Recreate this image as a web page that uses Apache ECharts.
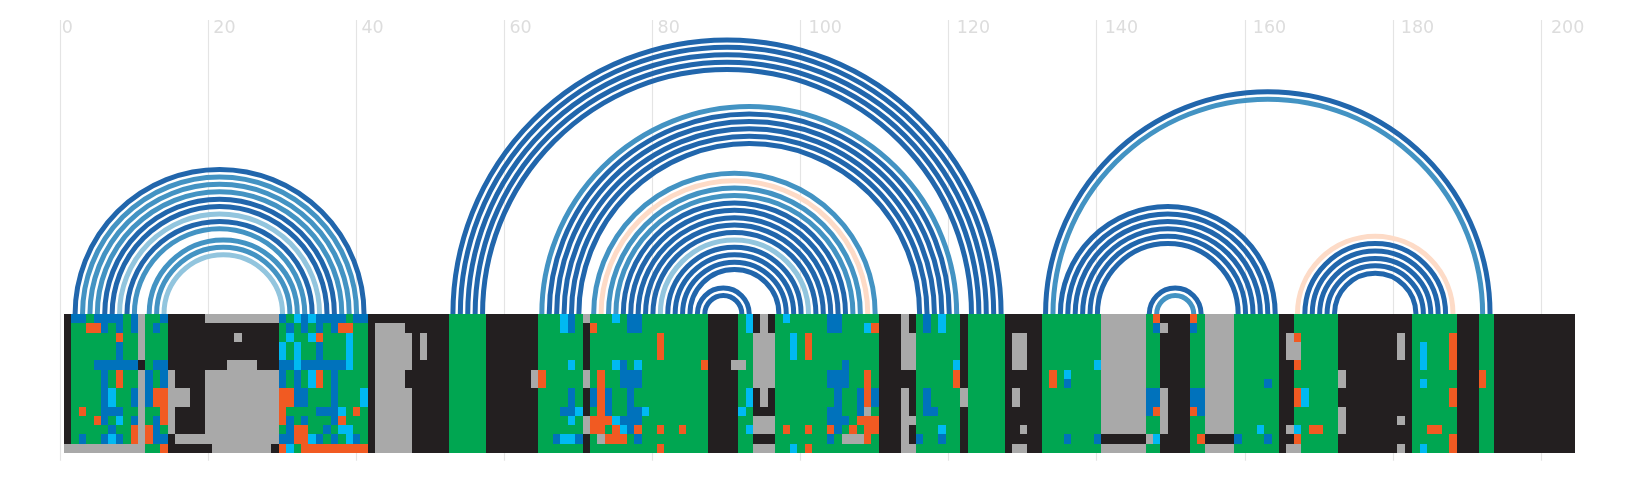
<!DOCTYPE html>
<html>
<head>
<meta charset="utf-8">
<style>html,body{margin:0;padding:0;background:#fff}#chart{width:1632px;height:478px}</style>
<script src="https://cdn.jsdelivr.net/npm/echarts@6/dist/echarts.min.js"></script>
</head>
<body>
<div id="chart"></div>
<script>
// Base pairs: [5' position, 3' position, probability class]
const arcGroupA = [[2,41,0],[3,40,1],[4,39,1],[5,38,1],[6,37,0],[7,36,0],[8,35,2],[9,34,0],[10,33,1],[12,32,1],[13,31,1],[14,30,2]];
const arcGroupB = [[53,127,0],[54,126,0],[55,125,0],[56,124,0],[57,123,0]];
const arcGroupC = [[65,121,1],[66,120,0],[67,119,0],[68,118,0],[69,117,0],[70,116,0]];
const arcGroupD = [[72,110,1],[73,109,3],[74,108,1],[75,107,1],[76,106,0],[77,105,0],[78,104,0],[79,103,0],[80,102,0],[81,101,2],[82,100,0],[83,99,0],[84,98,0],[85,97,0],[86,93,0],[87,92,0]];
const arcGroupE = [[133,193,0],[134,192,1]];
const arcGroupF = [[135,164,0],[136,163,0],[137,162,0],[138,161,0],[139,160,0],[140,159,0],[147,154,0],[148,153,1]];
const arcGroupG = [[167,188,3],[168,187,0],[169,186,0],[170,185,0],[171,184,0],[172,183,0]];
const arcColors = ['#2166AC','#4393C3','#92C5DE','#FDDBC7'];

const tickStep = 20;
const positionCount = 204;

// Alignment rows: each token = first column of a run + state letter
const alignmentRows = [
"1K 2B 4G 5B 9G 10B 11A 12G 14B 15K 20A 30B 31G 32C 33B 34C 35B 39G 40B 42K 53G 58K 65G 68C 69B 70G 71A 72G 75C 76G 77B 79G 88K 92G 93C 94K 95A 96K 97G 98C 99G 104B 106G 111K 114A 115K 116G 117B 118G 119C 120G 122K 123G 128K 133G 141A 147G 148O 149K 153O 154G 155A 159G 165K 167G 173K 183G 189K 192G 194K",
"1K 2G 4O 6B 7G 8B 9G 10B 11A 12G 13B 14G 15K 30G 31B 32G 33B 34G 35B 36G 37B 38O 40G 42K 43A 47K 53G 58K 65G 68C 69B 70G 71K 72O 73G 77B 79G 88K 92G 93C 94K 95A 96K 97G 104B 106G 109C 110O 111K 114A 115K 116G 117B 118G 119C 120G 122K 123G 128K 133G 141A 147G 148B 149A 150K 153B 154G 155A 159G 165K 167G 173K 183G 189K 192G 194K",
"1K 2G 8O 9G 11A 12G 15K 24A 25K 30G 31C 32G 34C 35O 36G 39C 40G 42K 43A 48K 49A 50K 53G 58K 65G 71K 72G 81O 82G 88K 92G 94A 97G 99C 100G 101O 102G 111K 114A 116G 122K 123G 128K 129A 131K 133G 141A 147G 149K 153G 155A 159G 165K 166A 167O 168G 173K 181A 182K 183G 188O 189K 192G 194K",
"1K 2G 8B 9G 11A 12G 15K 30C 31G 32C 33G 35B 36G 39C 40G 42K 43A 48K 49A 50K 53G 58K 65G 71K 72G 81O 82G 88K 92G 94A 97G 99C 100G 101O 102G 111K 114A 116G 122K 123G 128K 129A 131K 133G 141A 147G 149K 153G 155A 159G 165K 166A 168G 173K 181A 182K 183G 184C 185G 188O 189K 192G 194K",
"1K 2G 8B 9G 11A 12G 15K 30C 31G 32C 33G 35B 36G 39C 40G 42K 43A 48K 49A 50K 53G 58K 65G 71K 72G 81O 82G 88K 92G 94A 97G 99C 100G 101O 102G 111K 114A 116G 122K 123G 128K 129A 131K 133G 141A 147G 149K 153G 155A 159G 165K 166A 168G 173K 181A 182K 183G 184C 185G 188O 189K 192G 194K",
"1K 2G 5B 11K 12G 13B 15K 23A 27K 30B 32C 33B 39C 40G 42K 43A 48K 53G 58K 65G 69C 70G 71K 72G 75C 76B 77G 78C 79G 87O 88K 91A 93G 94A 97G 106B 107G 111K 114A 116G 121C 122K 123G 128K 129A 131K 133G 140C 141A 147G 149K 153G 155A 159G 165K 167O 168G 173K 183G 184C 185G 188O 189K 192G 194K",
"1K 2G 6B 7G 8O 9G 11A 12B 13G 14B 15A 16K 20A 30B 31G 32B 33G 34C 35O 36G 37B 38G 42K 43A 47K 53G 58K 64A 65O 66G 71A 72G 73O 74G 76B 79G 88K 92G 94A 97G 104B 107G 109O 110G 111K 116G 121O 122K 123G 128K 133G 134O 135G 136C 137G 141A 147G 149K 153G 155A 159G 165K 167G 173A 174K 183G 189K 192O 193G 194K",
"1K 2G 6B 7G 8O 9G 11A 12B 13G 14B 15A 16K 20A 30B 31G 32B 33G 34C 35O 36G 37B 38G 42K 43A 47K 53G 58K 64A 65O 66G 71A 72G 73O 74G 76B 79G 88K 92G 94A 97G 104B 107G 109O 110G 111K 116G 121O 122K 123G 128K 133G 134O 135G 136B 137G 141A 147G 149K 153G 155A 159G 163B 164G 165K 167G 173A 174K 183G 184C 185G 189K 192O 193G 194K",
"1K 2G 6B 7C 8G 10B 11A 12B 13O 15A 18K 20A 30O 32B 34G 37B 38G 41C 42K 43A 48K 53G 58K 65G 69B 70G 71K 72B 73O 74B 75G 77B 78G 88K 92G 93C 94K 95A 96K 97G 105B 106G 108B 109O 110B 111K 114A 115K 116G 117B 118G 122A 123G 128K 129A 130K 133G 141A 147B 149A 150K 153B 155A 159G 165K 167O 168C 169G 173K 183G 188O 189K 192G 194K",
"1K 2G 6B 7C 8G 10B 11A 12B 13O 15A 18K 20A 30O 32B 34G 37B 38G 41C 42K 43A 48K 53G 58K 65G 69B 70G 71K 72B 73O 74B 75G 77B 78G 88K 92G 93C 94K 95A 96K 97G 105B 106G 108B 109O 110B 111K 114A 115K 116G 117B 118G 122A 123G 128K 129A 130K 133G 141A 147B 149A 150K 153B 155A 159G 165K 167O 168C 169G 173K 183G 188O 189K 192G 194K",
"1K 2G 3O 4G 6B 9G 11A 12G 14O 15A 16K 20A 30O 31G 35B 38C 39G 40O 41G 42K 43A 48K 53G 58K 65G 68B 70C 71K 72G 73O 74B 75G 77B 79C 80G 88K 92C 93G 94K 97G 104B 106G 108B 109A 110G 111K 114A 115K 116G 117B 119G 122K 123G 128K 133G 141A 147B 148O 149A 150K 153O 154B 155A 159G 165K 167G 173A 174K 183G 189K 192G 194K",
"1K 2G 5O 6B 7G 8C 9G 10B 11A 12G 13B 14O 15A 16K 20A 30O 31B 32G 33B 34G 37B 38O 39G 42K 43A 48K 53G 58K 65G 69C 70G 71A 72O 75C 76B 79G 88K 92G 94A 97G 104B 107G 108O 111K 114A 116G 122K 123G 128K 133G 141A 147G 149A 150K 153G 155A 159G 165K 167G 173A 174K 181A 182K 183G 189K 192G 194K",
"1K 2G 7B 8G 10O 11A 12O 13B 14G 15A 16K 20A 30G 31B 32O 34G 36B 37G 38C 40G 42K 43A 48K 53G 58K 65G 71A 72O 74G 75O 76C 77B 78O 79G 81O 82G 84O 85G 88K 92G 93C 94A 97G 98O 99G 101O 102G 104O 105B 106G 107O 108G 109O 111K 114A 115K 116G 119C 120G 122K 123G 128K 130A 131K 133G 141A 147G 149A 150K 153G 155A 159G 162C 163G 165K 166A 167C 168G 169O 171G 173A 174K 183G 185O 187G 189K 192G 194K",
"1K 2G 3B 4G 6B 7C 8B 9G 10O 11A 12O 13B 15K 16A 30B 32O 34C 35B 36G 37B 38G 39C 40B 41G 42K 43A 48K 53G 58K 65G 67B 68C 70B 71K 72G 73A 74O 77G 78B 79G 88K 92G 94K 97G 104B 105G 106A 109O 110G 111K 114A 115K 116B 117G 119B 120G 122K 123G 128K 133G 136B 137G 140B 141K 147A 148C 149K 153G 154O 155K 159B 160G 163B 164G 165K 167O 168G 173K 183G 188O 189K 192G 194K",
"1A 12G 14O 15K 21A 29K 30O 31C 32G 33O 42K 43A 48K 53G 58K 65G 71K 72G 81O 82G 88K 92G 94A 97G 99C 100G 101O 102G 111K 114A 116G 122K 123G 128K 129A 131K 133G 141A 147G 149K 153G 155A 159G 165K 166A 168G 173K 181A 182K 183G 184C 185G 188O 189K 192G 194K"
];
const stateLetters = ['K','G','A','B','C','O'];
const stateColors = ['#231F20','#00A651','#A9A9A9','#0072BC','#00B9F2','#F15A22'];

// Layout (pixels)
const X0 = 60.3, TICK_UNIT = 7.403, UNIT = 7.408, HEAT_LEFT = 64, BASE_Y = 314, ROW_H = 9.25, GRID_TOP = 20, GRID_BOTTOM_Y = 460.7;

const arcs = [].concat(arcGroupA, arcGroupB, arcGroupC, arcGroupD, arcGroupE, arcGroupF, arcGroupG);
const positions = Array.from({length: positionCount}, (_, i) => String(i + 1));
const rowNames = alignmentRows.map((_, i) => 'seq' + (i + 1));

const cells = [];
alignmentRows.forEach((row, r) => {
  const runs = row.split(' ').map(t => [parseInt(t, 10), t.slice(-1)]);
  runs.forEach((run, k) => {
    const end = k + 1 < runs.length ? runs[k + 1][0] : positionCount + 1;
    for (let c = run[0]; c < end; c++) cells.push([c - 1, r, stateLetters.indexOf(run[1])]);
  });
});

const labelText = {fontSize: 17.5, color: '#DDDDDD', fontFamily: 'DejaVu Sans'};
const labelClass = v => (v === 0 ? 'z' : v < 100 ? 'n' : v < 200 ? 'w' : 'e');
const chart = echarts.init(document.getElementById('chart'), null, {renderer: 'canvas'});
chart.setOption({
  animation: false,
  backgroundColor: '#fff',
  textStyle: {fontFamily: 'DejaVu Sans'},
  grid: [
    {left: X0, top: GRID_TOP, width: 205 * TICK_UNIT, height: GRID_BOTTOM_Y - GRID_TOP},
    {left: HEAT_LEFT, top: BASE_Y, width: positionCount * UNIT, height: alignmentRows.length * ROW_H},
    {left: X0, top: GRID_TOP, width: 205 * UNIT, height: GRID_BOTTOM_Y - GRID_TOP}
  ],
  xAxis: [
    {type: 'value', gridIndex: 0, position: 'top', min: 0, max: 205, interval: tickStep,
     axisLine: {show: false}, axisTick: {show: false},
     axisLabel: {inside: true, margin: 8, align: 'left', verticalAlign: 'middle', showMaxLabel: false,
                 ...labelText,
                 formatter: v => '{' + labelClass(v) + '|' + v + '}',
                 rich: {
                   z: {...labelText, padding: [0, 0, 0, 1.5]},
                   n: {...labelText, padding: [0, 0, 0, 5]},
                   w: {...labelText, padding: [0, 0, 0, 8]},
                   e: {...labelText, padding: [0, 0, 0, 10]}
                 }},
     splitLine: {show: true, showMaxLine: false, lineStyle: {color: '#E4E4E4', width: 1.2}}},
    {type: 'category', gridIndex: 1, data: positions, show: false},
    {type: 'value', gridIndex: 2, show: false, min: 0, max: 205}
  ],
  yAxis: [
    {type: 'value', gridIndex: 0, show: false, min: 0, max: 1},
    {type: 'category', gridIndex: 1, data: rowNames, inverse: true, show: false},
    {type: 'value', gridIndex: 2, show: false, min: (BASE_Y - GRID_BOTTOM_Y) / UNIT, max: (BASE_Y - GRID_TOP) / UNIT}
  ],
  series: [
    {
      type: 'custom', xAxisIndex: 2, yAxisIndex: 2, coordinateSystem: 'cartesian2d', clip: false, silent: true,
      encode: {x: [0, 1]},
      data: arcs,
      renderItem(params, api) {
        const s = api.value(0), e = api.value(1);
        const c = api.coord([(s + e) / 2, 0]);
        const r = api.size([(e - s) / 2, 0])[0];
        return {
          type: 'arc',
          shape: {cx: c[0], cy: c[1], r, startAngle: Math.PI, endAngle: 2 * Math.PI, clockwise: true},
          style: {stroke: arcColors[api.value(2)], lineWidth: 5, fill: null}
        };
      }
    },
    {
      type: 'custom', xAxisIndex: 1, yAxisIndex: 1, coordinateSystem: 'cartesian2d', silent: true,
      encode: {x: 0, y: 1},
      data: cells,
      renderItem(params, api) {
        const c = api.coord([api.value(0), api.value(1)]);
        const sz = api.size([1, 1]);
        const x0 = Math.round(c[0] - sz[0] / 2), x1 = Math.round(c[0] + sz[0] / 2);
        const y0 = Math.round(c[1] - sz[1] / 2), y1 = Math.round(c[1] + sz[1] / 2);
        return {
          type: 'rect',
          shape: {x: x0, y: y0, width: x1 - x0, height: y1 - y0},
          style: {fill: stateColors[api.value(2)]}
        };
      }
    }
  ]
});
</script>
</body>
</html>
